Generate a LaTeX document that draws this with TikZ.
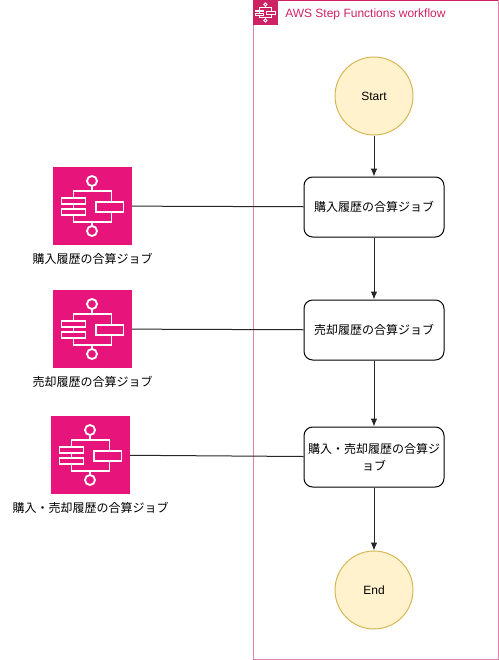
\documentclass[tikz,border=0pt]{standalone}
\usepackage{fontspec}
\setmainfont{Liberation Sans}
\newfontfamily\jpfont{Noto Sans CJK JP}
\usepackage{tikz}
\usetikzlibrary{arrows.meta,positioning}
\definecolor{stepred}{HTML}{E7157B}
\definecolor{framered}{HTML}{CD2264}
\definecolor{startfill}{HTML}{FFF2CC}
\definecolor{startline}{HTML}{D6B656}
\tikzset{
  terminal/.style={circle,draw=startline,line width=0.75pt,fill=startfill,minimum size=58.5pt,inner sep=0pt,font=\fontsize{9}{11}\selectfont},
  jobbox/.style={draw=black,line width=0.75pt,fill=white,rounded corners=6.5pt,minimum width=105pt,minimum height=45pt,inner sep=1pt,align=center,font=\jpfont\fontsize{9}{12.5}\selectfont},
  iconbox/.style={fill=stepred,minimum size=59pt,inner sep=0pt},
  iconlabel/.style={font=\jpfont\fontsize{9}{11}\selectfont},
  flowarrow/.style={draw=black!85,line width=0.75pt,-{Latex[length=6pt,width=5pt]}},
  joinline/.style={draw=black!85,line width=0.75pt},
  pics/flowglyph/.style={code={
    \draw[white,line width=#1] (-0.5,-25) circle[radius=5];
    \draw[white,line width=#1] (-0.5,25) circle[radius=5];
    \draw[white,line width=#1] (-0.5,-20) -- (-0.5,-15);
    \draw[white,line width=#1] (-0.5,16) -- (-0.5,20);
    \draw[white,line width=#1] (-19,-8) -- (-19,-15) -- (19,-15) -- (19,-4.3);
    \draw[white,line width=#1] (-19,9.3) -- (-19,16) -- (19,16) -- (19,6);
    \draw[white,line width=#1] (-19,-2.3) -- (-19,3.3);
    \draw[white,line width=#1] (-31,-8) rectangle (-7,-2.3);
    \draw[white,line width=#1] (-31,3.3) rectangle (-7,9.3);
    \draw[white,line width=#1] (3.7,-4.3) rectangle (31,6);
  }}
}
\begin{document}
\begin{tikzpicture}[x=0.75pt,y=-0.75pt]
\useasboundingbox (0,0) rectangle (499,660);
\draw[framered!55,line width=0.75pt] (253.5,0.5) rectangle (498,659);
\draw[framered,line width=0.75pt] (253.5,0.5) -- (498,0.5);
\node[fill=framered,minimum size=18.75pt,inner sep=0pt] (frameicon) at (265.5,12.5) {};
\pic[scale=0.32] at (frameicon.center) {flowglyph=0.6pt};
\node[right,text=framered,font=\fontsize{9}{11}\selectfont,inner sep=0pt] (frametitle) at (285,14) {AWS Step Functions workflow};

\node[terminal] (start) at (374,96) {Start};
\node[jobbox] (buyjob) at (374,207) {購入履歴の合算ジョブ};
\node[jobbox] (selljob) at (374,330) {売却履歴の合算ジョブ};
\node[jobbox] (bothjob) at (374,457) {購入・売却履歴の合算ジ\\ョブ};
\node[terminal] (end) at (374,590) {End};

\node[iconbox] (buyicon) at (92.5,206) {};
\node[iconbox] (sellicon) at (92.5,329) {};
\node[iconbox] (bothicon) at (90.5,455) {};
\pic at (buyicon.center) {flowglyph=1.4pt};
\pic at (sellicon.center) {flowglyph=1.4pt};
\pic at (bothicon.center) {flowglyph=1.4pt};
\node[iconlabel] (buylabel) at (92.5,259) {購入履歴の合算ジョブ};
\node[iconlabel] (selllabel) at (92.5,382) {売却履歴の合算ジョブ};
\node[iconlabel] (bothlabel) at (90.5,508) {購入・売却履歴の合算ジョブ};

\draw[flowarrow] (start) -- (buyjob);
\draw[flowarrow] (buyjob) -- (selljob);
\draw[flowarrow] (selljob) -- (bothjob);
\draw[flowarrow] (bothjob) -- (end);
\draw[joinline] (buyicon) -- (buyjob);
\draw[joinline] (sellicon) -- (selljob);
\draw[joinline] (bothicon) -- (bothjob);
\end{tikzpicture}
\end{document}
